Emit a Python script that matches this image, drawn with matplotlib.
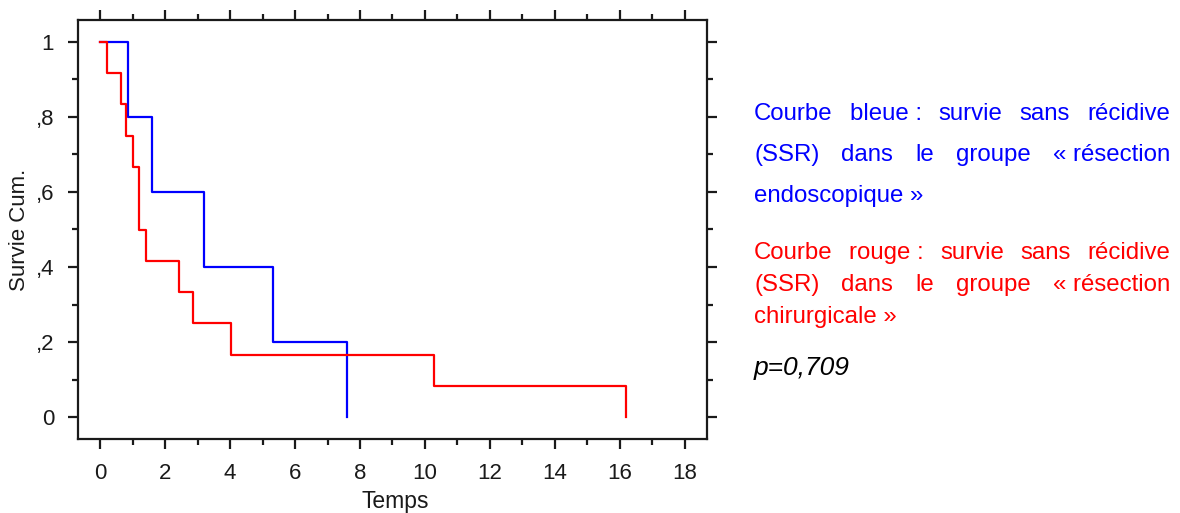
import numpy as np
import matplotlib
matplotlib.use('Agg')
import matplotlib.pyplot as plt
from matplotlib.ticker import MultipleLocator, FixedLocator

plt.rcParams['font.family'] = ['Liberation Sans', 'DejaVu Sans']

# survival curves (Kaplan-Meier)
t_endo = [0, 0.87, 1.61, 3.21, 5.31, 7.59]
s_endo = [1.0, 0.8, 0.6, 0.4, 0.2, 0.0]
t_chir = [0, 0.2, 0.65, 0.8, 1.0, 1.2, 1.4, 2.43, 2.87, 4.02, 10.28, 16.18]
s_chir = [1.0, 0.917, 0.833, 0.75, 0.667, 0.5, 0.417, 0.333, 0.25, 0.167, 0.083, 0.0]

xticks = [0, 2, 4, 6, 8, 10, 12, 14, 16, 18]
yticks = [0, 0.2, 0.4, 0.6, 0.8, 1.0]
ylabels = ['0', ',2', ',4', ',6', ',8', '1']

blue_lines = [["Courbe", "bleue :", "survie", "sans", "récidive"],
              ["(SSR)", "dans", "le", "groupe", "« résection"],
              ["endoscopique »"]]
red_lines = [["Courbe", "rouge :", "survie", "sans", "récidive"],
             ["(SSR)", "dans", "le", "groupe", "« résection"],
             ["chirurgicale »"]]
p_text = "p=0,709"

W, H = 1180, 513
fig = plt.figure(figsize=(W / 100, H / 100), dpi=100)
ax = fig.add_axes([78 / W, 1 - 439 / H, (707 - 78) / W, (439 - 20) / H])

ax.step(t_endo, s_endo, where='post', color='#0000ff', lw=1.6)
ax.step(t_chir, s_chir, where='post', color='#ff0000', lw=1.6)

ax.set_xlim(-0.68, 18.68)
ax.set_ylim(-0.058, 1.058)
ax.xaxis.set_major_locator(FixedLocator(xticks))
ax.xaxis.set_minor_locator(MultipleLocator(1))
ax.yaxis.set_major_locator(FixedLocator(yticks))
ax.yaxis.set_minor_locator(MultipleLocator(0.1))
ax.set_yticklabels(ylabels)
ax.tick_params(which='both', direction='out', top=True, right=True, width=1.6, colors='#1a1a1a')
ax.tick_params(which='major', length=7.2, labelsize=16)
ax.tick_params(axis='x', which='major', pad=10)
ax.tick_params(axis='y', which='major', pad=10)
ax.tick_params(which='minor', length=4)
for s in ax.spines.values():
    s.set_linewidth(1.6)
    s.set_color('#1a1a1a')

ax.set_xlabel('Temps', fontsize=16.5, color='#1a1a1a', va='baseline')
ax.set_ylabel('Survie Cum.', fontsize=16, color='#1a1a1a', va='center')
ax.xaxis.set_label_coords(0.505, -(508 - 439) / 419)
ax.yaxis.set_label_coords((19 - 78) / 629, 0.5)

renderer = fig.canvas.get_renderer()


def put_line(words, base_y, color, justify=True, x0=754, x1=1170, size=17.3):
    texts = [fig.text(0, 1 - base_y / H, w, color=color, fontsize=size, va='baseline')
             for w in words]
    widths = [t.get_window_extent(renderer).width for t in texts]
    if justify and len(words) > 1:
        gap = (x1 - x0 - sum(widths)) / (len(words) - 1)
    else:
        gap = 5
    x = x0
    for t, w in zip(texts, widths):
        t.set_x(x / W)
        x += w + gap


for i, (line, y) in enumerate(zip(blue_lines, [120, 161, 202])):
    put_line(line, y, '#0000ff', justify=(i < 2))
for i, (line, y) in enumerate(zip(red_lines, [259, 291, 323])):
    put_line(line, y, '#ff0000', justify=(i < 2))
fig.text(754 / W, 1 - 375 / H, p_text, fontsize=19, style='italic', color='black', va='baseline')

fig.savefig('out.png', dpi=100)
